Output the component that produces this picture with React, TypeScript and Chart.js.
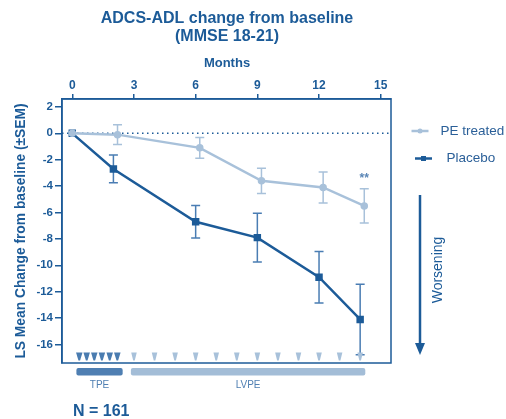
import React, { useEffect, useRef } from "react";
import { Chart, registerables } from "chart.js";

Chart.register(...registerables);

const monthTicks = [0, 3, 6, 9, 12, 15];
const yTicks = [2, 0, -2, -4, -6, -8, -10, -12, -14, -16];

const placeboMonths = [0, 2, 6, 9, 12, 14];
const placeboMean = [0, -2.7, -6.7, -7.9, -10.9, -14.1];
const placeboSem = [0, 1.05, 1.23, 1.85, 1.95, 2.67];

const peMonths = [0, 2.2, 6.2, 9.2, 12.2, 14.2];
const peMean = [0, -0.1, -1.1, -3.6, -4.1, -5.5];
const peSem = [0, 0.75, 0.78, 0.95, 1.17, 1.3];

const tpeSessions = [0.34, 0.7, 1.07, 1.44, 1.82, 2.19];
const lvpeSessions = [3, 4, 5, 6, 7, 8, 9, 10, 11, 12, 13, 14];
const tpePeriod = [0.2, 2.45];
const lvpePeriod = [2.85, 14.25];

const seriesLabels = ["PE treated", "Placebo"];

const DARK = "#1c5b98";
const LIGHT = "#a8c1da";
const MID = "#4f7fb2";
const TRI_DARK = "#4a7cb0";
const FONT = "'Liberation Sans', Arial, Helvetica, sans-serif";

const overlay = {
  id: "overlay",
  beforeDatasetsDraw(chart: any) {
    const { ctx, chartArea, scales } = chart;
    const y0 = scales.y.getPixelForValue(0);
    ctx.save();
    ctx.strokeStyle = DARK;
    ctx.lineWidth = 1.5;
    ctx.setLineDash([1.5, 3.5]);
    ctx.beginPath();
    ctx.moveTo(chartArea.left, y0);
    ctx.lineTo(chartArea.right, y0);
    ctx.stroke();
    ctx.setLineDash([]);

    const drawErr = (xs: number[], m: number[], s: number[], color: string) => {
      ctx.strokeStyle = color;
      ctx.lineWidth = 1.5;
      for (let i = 0; i < xs.length; i++) {
        if (!s[i]) continue;
        const px = scales.x.getPixelForValue(xs[i]);
        const top = scales.y.getPixelForValue(m[i] + s[i]);
        const bot = scales.y.getPixelForValue(m[i] - s[i]);
        ctx.beginPath();
        ctx.moveTo(px, top);
        ctx.lineTo(px, bot);
        ctx.moveTo(px - 4.5, top);
        ctx.lineTo(px + 4.5, top);
        ctx.moveTo(px - 4.5, bot);
        ctx.lineTo(px + 4.5, bot);
        ctx.stroke();
      }
    };
    drawErr(peMonths, peMean, peSem, LIGHT);
    drawErr(placeboMonths, placeboMean, placeboSem, "#4a7db3");
    ctx.restore();
  },
  afterDraw(chart: any) {
    const { ctx, chartArea, scales } = chart;
    const { left, right, top, bottom } = chartArea;
    ctx.save();
    // frame
    ctx.strokeStyle = DARK;
    ctx.lineWidth = 1.5;
    ctx.strokeRect(left, top, right - left, bottom - top);

    // session triangles
    const tri = (m: number, color: string, w: number) => {
      const px = scales.x.getPixelForValue(m);
      ctx.fillStyle = color;
      ctx.beginPath();
      ctx.moveTo(px - w / 2, bottom - 10.5);
      ctx.lineTo(px + w / 2, bottom - 10.5);
      ctx.lineTo(px + 0.8, bottom - 2.5);
      ctx.lineTo(px - 0.8, bottom - 2.5);
      ctx.closePath();
      ctx.fill();
    };
    tpeSessions.forEach((m) => tri(m, TRI_DARK, 6.5));
    lvpeSessions.forEach((m) => tri(m, LIGHT, 5.5));

    // period bars
    const bar = (p: number[], color: string) => {
      const x1 = scales.x.getPixelForValue(p[0]);
      const x2 = scales.x.getPixelForValue(p[1]);
      ctx.fillStyle = color;
      ctx.beginPath();
      (ctx as any).roundRect(x1, bottom + 5, x2 - x1, 7.5, 2);
      ctx.fill();
    };
    bar(tpePeriod, "#4f7fb2");
    bar(lvpePeriod, "#a3bdd7");
    ctx.fillStyle = MID;
    ctx.font = `10px ${FONT}`;
    ctx.textAlign = "center";
    ctx.textBaseline = "middle";
    ctx.fillText("TPE", (scales.x.getPixelForValue(tpePeriod[0]) + scales.x.getPixelForValue(tpePeriod[1])) / 2, bottom + 22);
    ctx.fillText("LVPE", (scales.x.getPixelForValue(lvpePeriod[0]) + scales.x.getPixelForValue(lvpePeriod[1])) / 2, bottom + 22);

    // significance mark
    const lastI = peMonths.length - 1;
    ctx.fillStyle = "#5a86b6";
    ctx.font = `bold 12px ${FONT}`;
    ctx.fillText("**", scales.x.getPixelForValue(peMonths[lastI]), scales.y.getPixelForValue(peMean[lastI] + peSem[lastI]) - 10);

    // titles
    ctx.fillStyle = DARK;
    ctx.font = `bold 16px ${FONT}`;
    ctx.fillText("ADCS-ADL change from baseline", 227, 18.5);
    ctx.fillText("(MMSE 18-21)", 227, 36.5);
    ctx.font = `bold 13px ${FONT}`;
    ctx.fillText("Months", 227, 63);

    // y axis title
    ctx.save();
    ctx.translate(21, (top + bottom) / 2);
    ctx.rotate(-Math.PI / 2);
    ctx.font = `bold 13.8px ${FONT}`;
    ctx.fillText("LS Mean Change from baseline (±SEM)", 0, 0);
    ctx.restore();

    // legend
    const legendItem = (y: number, x1: number, x2: number, color: string, label: string, square: boolean, tx: number) => {
      ctx.strokeStyle = color;
      ctx.fillStyle = color;
      ctx.lineWidth = 2.5;
      ctx.beginPath();
      ctx.moveTo(x1, y);
      ctx.lineTo(x2, y);
      ctx.stroke();
      const cx = (x1 + x2) / 2;
      if (square) ctx.fillRect(cx - 2.5, y - 2.5, 5, 5);
      else {
        ctx.beginPath();
        ctx.arc(cx, y, 2.5, 0, Math.PI * 2);
        ctx.fill();
      }
      ctx.fillStyle = "#2a5f98";
      ctx.font = `13.5px ${FONT}`;
      ctx.textAlign = "left";
      ctx.fillText(label, tx, y);
    };
    legendItem(131, 411.5, 428.5, LIGHT, seriesLabels[0], false, 440.5);
    legendItem(158.5, 415, 432, DARK, seriesLabels[1], true, 446.5);

    // worsening arrow
    ctx.strokeStyle = DARK;
    ctx.fillStyle = DARK;
    ctx.lineWidth = 2.5;
    ctx.beginPath();
    ctx.moveTo(420, 195);
    ctx.lineTo(420, 346);
    ctx.stroke();
    ctx.beginPath();
    ctx.moveTo(415, 343);
    ctx.lineTo(425, 343);
    ctx.lineTo(420, 355);
    ctx.closePath();
    ctx.fill();
    ctx.save();
    ctx.translate(438, 270);
    ctx.rotate(-Math.PI / 2);
    ctx.font = `14px ${FONT}`;
    ctx.textAlign = "center";
    ctx.textBaseline = "middle";
    ctx.fillText("Worsening", 0, 0);
    ctx.restore();

    // N
    ctx.font = `bold 16px ${FONT}`;
    ctx.textAlign = "left";
    ctx.fillStyle = DARK;
    ctx.fillText("N = 161", 73, 412);
    ctx.restore();
  },
};

export default function App() {
  const ref = useRef<HTMLCanvasElement>(null);
  useEffect(() => {
    const canvas = ref.current!;
    const chart = new Chart(canvas, {
      type: "line",
      data: {
        datasets: [
          {
            label: seriesLabels[0],
            data: peMonths.map((m, i) => ({ x: m, y: peMean[i] })),
            borderColor: LIGHT,
            backgroundColor: LIGHT,
            borderWidth: 2.5,
            pointRadius: 2.5,
            pointStyle: "circle",
          },
          {
            label: seriesLabels[1],
            data: placeboMonths.map((m, i) => ({ x: m, y: placeboMean[i] })),
            borderColor: DARK,
            backgroundColor: DARK,
            borderWidth: 2.5,
            pointRadius: 3.5,
            pointStyle: "rect",
          },
        ],
      },
      options: {
        responsive: false,
        animation: false,
        layout: { padding: { left: 0, right: 115, top: 70, bottom: 56 } },
        plugins: { legend: { display: false }, tooltip: { enabled: false } },
        scales: {
          x: {
            type: "linear",
            position: "top",
            min: -0.5,
            max: 15.5,
            afterBuildTicks: (s: any) => {
              s.ticks = monthTicks.map((v) => ({ value: v }));
            },
            afterFit: (s: any) => {
              s.height = 29;
            },
            ticks: {
              color: DARK,
              font: { size: 12, weight: "bold", family: FONT },
              padding: 1,
              maxRotation: 0,
              autoSkip: false,
            },
            grid: { drawOnChartArea: false, drawTicks: true, tickLength: 5, color: DARK, lineWidth: 1.5 },
            border: { color: DARK, width: 1.5 },
          },
          y: {
            type: "linear",
            min: -17.4,
            max: 2.6,
            afterBuildTicks: (s: any) => {
              s.ticks = yTicks.map((v) => ({ value: v }));
            },
            afterFit: (s: any) => {
              s.width = 62;
            },
            ticks: {
              color: DARK,
              font: { size: 11.5, weight: "bold", family: FONT },
              padding: 2,
              autoSkip: false,
            },
            grid: { drawOnChartArea: false, drawTicks: true, tickLength: 7, color: DARK, lineWidth: 1.5 },
            border: { color: DARK, width: 1.5 },
          },
        },
      } as any,
      plugins: [overlay],
    });
    return () => chart.destroy();
  }, []);
  return (
    <div style={{ position: "fixed", left: 0, top: 0, width: 506, height: 419, background: "#fff" }}>
      <canvas ref={ref} width={506} height={419} style={{ width: 506, height: 419 }} />
    </div>
  );
}
